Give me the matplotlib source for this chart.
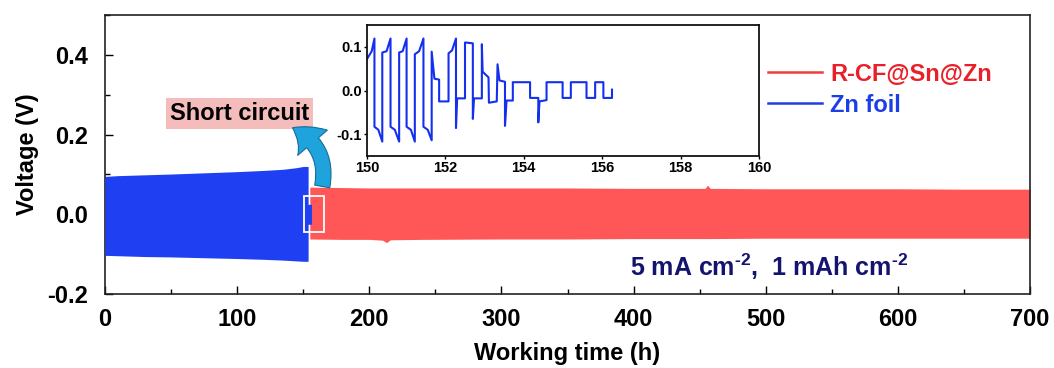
import matplotlib
matplotlib.use("Agg")
import matplotlib.pyplot as plt
from matplotlib.lines import Line2D
from matplotlib.patches import Rectangle, FancyArrowPatch
from matplotlib.ticker import MultipleLocator

plt.rcParams['font.family'] = ['Liberation Sans', 'DejaVu Sans']
plt.rcParams['font.weight'] = 'bold'
plt.rcParams['mathtext.fontset'] = 'custom'
plt.rcParams['mathtext.rm'] = 'Liberation Sans:bold'
plt.rcParams['mathtext.bf'] = 'Liberation Sans:bold'

# ---- data ----
# Zn foil voltage envelope (h, V)
zn_time = [0, 10, 30, 50, 75, 100, 120, 135, 145, 150, 153.7, 153.7, 156.3]
zn_upper = [0.095, 0.097, 0.099, 0.101, 0.104, 0.107, 0.110, 0.113, 0.117, 0.120, 0.120, 0.025, 0.025]
zn_lower = [-0.103, -0.104, -0.106, -0.107, -0.109, -0.111, -0.113, -0.115, -0.117, -0.118, -0.118, -0.025, -0.025]

# R-CF@Sn@Zn voltage envelope (h, V)
rcf_time = [155, 180, 200, 210, 213, 216, 240, 300, 350, 400, 454, 456, 458, 500, 550, 600, 650, 700]
rcf_upper = [0.068, 0.067, 0.066, 0.066, 0.066, 0.066, 0.066, 0.066, 0.066, 0.065, 0.065, 0.073, 0.065, 0.064, 0.064, 0.064, 0.063, 0.063]
rcf_lower = [-0.062, -0.063, -0.063, -0.065, -0.071, -0.064, -0.063, -0.062, -0.062, -0.061, -0.061, -0.061, -0.061, -0.060, -0.060, -0.060, -0.060, -0.060]

# Inset: Zn foil detail near short circuit
inset_time = [150.00, 150.12, 150.19, 150.19, 150.29, 150.39,
              150.39, 150.50, 150.60, 150.60, 150.71, 150.82,
              150.82, 150.91, 151.01, 151.01, 151.12, 151.22,
              151.22, 151.33, 151.44, 151.44, 151.55, 151.65,
              151.65, 151.72, 151.84, 151.84, 152.08, 152.08, 152.17, 152.27,
              152.27, 152.30, 152.50, 152.50, 152.70, 152.70, 152.73, 152.93,
              152.93, 152.95, 153.10, 153.11, 153.31, 153.33, 153.38, 153.52,
              153.52, 153.56, 153.72, 153.72, 154.16, 154.16, 154.37, 154.37,
              154.40, 154.58, 154.58, 154.99, 154.99, 155.20, 155.20, 155.60,
              155.60, 155.82, 155.82, 156.03, 156.03, 156.25, 156.25]
inset_volt = [0.072, 0.090, 0.119, -0.083, -0.090, -0.117,
              0.087, 0.090, 0.119, -0.083, -0.090, -0.117,
              0.087, 0.090, 0.119, -0.083, -0.090, -0.117,
              0.083, 0.090, 0.119, -0.083, -0.090, -0.114,
              0.089, 0.027, 0.025, -0.025, -0.025, 0.085, 0.092, 0.119,
              -0.086, -0.018, -0.018, 0.110, 0.108, -0.065, -0.018, -0.018,
              0.106, 0.043, 0.030, -0.028, -0.025, 0.060, 0.023, 0.020,
              -0.081, -0.023, -0.023, 0.019, 0.019, -0.017, -0.017, -0.073,
              -0.025, -0.022, 0.019, 0.019, -0.017, -0.017, 0.019, 0.019,
              -0.017, -0.017, 0.019, 0.019, -0.017, -0.017, 0.002]

x_ticks = [0, 100, 200, 300, 400, 500, 600, 700]
y_ticks = [-0.2, 0.0, 0.2, 0.4]
inset_xticks = [150, 152, 154, 156, 158, 160]
inset_yticks = [-0.1, 0.0, 0.1]

RED = '#ff5757'
BLUE = '#1f3ff2'

fig = plt.figure(figsize=(10.54, 3.68), dpi=100)
ax = fig.add_axes([105/1054, 1-294/368, 925/1054, 279/368])

ax.fill_between(rcf_time, rcf_lower, rcf_upper, color=RED, lw=0, zorder=2)
ax.fill_between(zn_time, zn_lower, zn_upper, color=BLUE, lw=0, zorder=3)

ax.set_xlim(0, 700)
ax.set_ylim(-0.2, 0.5)
ax.set_xticks(x_ticks)
ax.set_yticks(y_ticks)
ax.set_xticklabels([str(v) for v in x_ticks])
ax.set_yticklabels(['%.1f' % v for v in y_ticks])
ax.xaxis.set_minor_locator(MultipleLocator(50))
ax.yaxis.set_minor_locator(MultipleLocator(0.1))
ax.tick_params(which='both', direction='in', top=False, right=False, labelsize=17, width=1.0)
ax.tick_params(which='major', length=6)
ax.tick_params(which='minor', length=3.5)
ax.tick_params(axis='x', which='major', pad=10)
ax.tick_params(axis='y', which='major', pad=12)
for s in ax.spines.values():
    s.set_linewidth(1.2)
    s.set_color('#222222')
ax.set_xlabel('Working time (h)', fontsize=17, fontweight='bold', labelpad=8)
ax.set_ylabel('Voltage (V)', fontsize=17, fontweight='bold', labelpad=6)

# legend
handles = [Line2D([], [], color='#f03c3c', lw=1.8), Line2D([], [], color='#1f3fe6', lw=1.8)]
leg = ax.legend(handles, ['R-CF@Sn@Zn', 'Zn foil'], loc='upper left',
                bbox_to_anchor=(0.6935, 0.905), frameon=False, fontsize=17,
                handlelength=2.3, handletextpad=0.34, labelspacing=0.33)
for t, c in zip(leg.get_texts(), ['#e8202a', '#1c3ee6']):
    t.set_color(c)
    t.set_fontweight('bold')

# condition text
ax.text(0.718, 0.097, r'5 mA cm$^{\text{-2}}$,  1 mAh cm$^{\text{-2}}$', transform=ax.transAxes,
        fontsize=18, fontweight='bold', color='#141470', ha='center', va='center')

# white box marking the inset region
ax.add_patch(Rectangle((150.5, -0.045), 15, 0.09, fill=False, ec='white', lw=1.3, zorder=5))

# short circuit label + arrow
ax.text(102, 0.2525, 'Short circuit', fontsize=17, fontweight='bold', color='black',
        ha='center', va='center', zorder=6,
        bbox=dict(boxstyle='square,pad=0.17', fc='#f5bcbc', ec='none'))
arr = FancyArrowPatch((164, 0.063), (140, 0.22), connectionstyle='arc3,rad=0.4',
                      arrowstyle='simple,head_width=28,head_length=18,tail_width=11',
                      mutation_scale=1, fc='#1ea3dc', ec='#1a6b98', lw=0.8, zorder=6)
ax.add_patch(arr)

# inset
ins = fig.add_axes([367/1054, 1-156/368, 392/1054, 131/368])
ins.plot(inset_time, inset_volt, color='#1430ee', lw=1.5)
ins.set_xlim(150, 160)
ins.set_ylim(-0.15, 0.15)
ins.set_xticks(inset_xticks)
ins.set_yticks(inset_yticks)
ins.set_xticklabels([str(v) for v in inset_xticks])
ins.set_yticklabels(['%.1f' % v for v in inset_yticks])
ins.tick_params(direction='out', length=2, width=1, labelsize=10.5, pad=1.5)
for s in ins.spines.values():
    s.set_linewidth(1.3)
    s.set_color('#111111')

fig.savefig('out.png', dpi=100)
